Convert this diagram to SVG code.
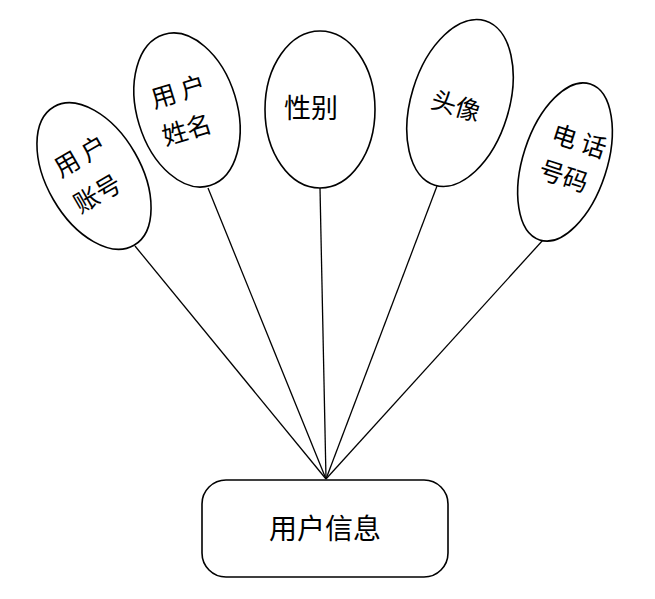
<svg xmlns="http://www.w3.org/2000/svg" width="655" height="599" viewBox="0 0 655 599">
<style>
.shape{fill:#fff;stroke:#000;stroke-width:1.6}
.conn line{stroke:#000;stroke-width:1.3}
text{font-family:"Noto Sans CJK SC","Noto Sans",sans-serif;font-size:25px;fill:#000;text-anchor:middle}
</style>
<rect width="655" height="599" fill="#fff"/>
<g id="connectors" class="conn">
<line x1="135" y1="246" x2="326" y2="479"/>
<line x1="208" y1="188" x2="326" y2="479"/>
<line x1="320" y1="188" x2="326" y2="479"/>
<line x1="437" y1="186" x2="326" y2="479"/>
<line x1="543" y1="240" x2="326" y2="479"/>
</g>
<g id="n1" transform="translate(94,176) rotate(-30)">
<ellipse class="shape" cx="0" cy="0" rx="47" ry="80"/>
<text x="-2" y="-15" xml:space="preserve">用 户</text>
<text x="-6" y="26">账号</text>
</g>
<g id="n2" transform="translate(187,110) rotate(-17)">
<ellipse class="shape" cx="0" cy="0" rx="50" ry="79"/>
<text x="-3" y="-11" xml:space="preserve">用 户</text>
<text x="-6" y="28">姓名</text>
</g>
<g id="n3">
<ellipse class="shape" cx="320" cy="109.5" rx="55" ry="78.5"/>
<text x="311" y="118" style="font-size:27px">性别</text>
</g>
<g id="n4" transform="translate(460,103) rotate(17)">
<ellipse class="shape" cx="0" cy="0" rx="49" ry="86"/>
<text x="-3" y="13">头像</text>
</g>
<g id="n5" transform="translate(565,162) rotate(18)">
<ellipse class="shape" cx="0" cy="0" rx="42" ry="82"/>
<text x="7" y="-15" xml:space="preserve">电 话</text>
<text x="3" y="23">号码</text>
</g>
<g id="n6">
<rect class="shape" x="202" y="480" width="246" height="97" rx="24"/>
<text x="325" y="539" style="font-size:28px">用户信息</text>
</g>
</svg>
